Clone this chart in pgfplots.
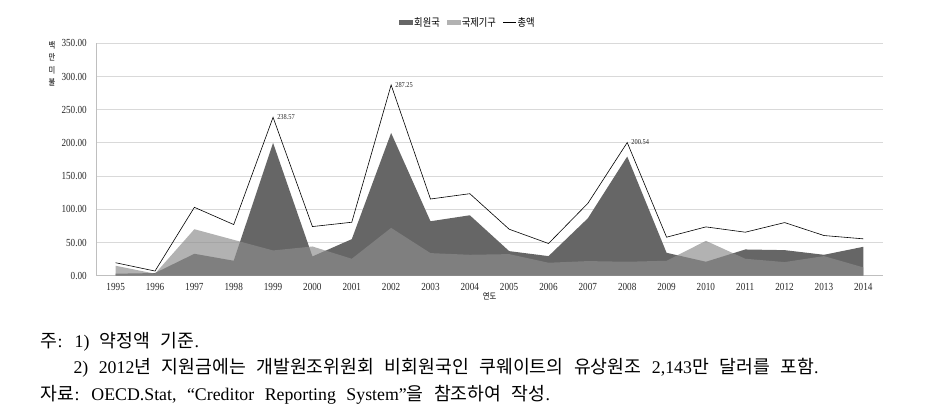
\documentclass[border=0pt]{standalone}
\usepackage{fontspec}
\usepackage{pgfplots}
\pgfplotsset{compat=1.18}
\setmainfont{Liberation Serif}
\newfontfamily\krn[FakeStretch=0.86]{Noto Sans CJK KR}
\newfontfamily\krw{Noto Sans CJK KR}
\newfontfamily\tk[FakeStretch=0.85]{Liberation Serif}
\definecolor{darkA}{HTML}{666666}
\definecolor{lightA}{HTML}{8C8C8C}
\definecolor{gridc}{HTML}{D9D9D9}
\definecolor{axisc}{HTML}{BFBFBF}
\pgfplotsset{
  boxleg/.style={legend image code/.code={\fill[##1] (0bp,-2.5bp) rectangle (14bp,2.5bp);}},
  lineleg/.style={legend image code/.code={\draw[##1] (0bp,0bp) -- (13bp,0bp);}},
}
\newcommand{\K}[1]{{\fontsize{18.3bp}{20bp}\krw #1}}
\newcommand{\NS}{\fontsize{17.8bp}{20bp}\selectfont\spaceskip=10.5bp\relax}

\pgfplotstableread{
year member intl total
1995 3    15   19.5
1996 4    3    7
1997 33   70   103
1998 22.5 54   77
1999 200  38   238.57
2000 29   44   74
2001 55   25.5 80.5
2002 215  72   287.25
2003 82   34   115.5
2004 91   31.5 123.5
2005 37   32.5 70
2006 29.5 19.5 48.5
2007 86.5 22   109
2008 179.5 21  200.54
2009 34.5 22.5 58
2010 21   52.5 73.5
2011 39.5 25.5 65.5
2012 38.5 20.5 80
2013 31.5 29.5 60.5
2014 43.5 12.5 55.5
}\datatable

\begin{document}
\begin{tikzpicture}
\useasboundingbox (0,0) rectangle (928bp,415bp);
\begin{axis}[
  at={(96bp,139.3bp)}, anchor=south west,
  scale only axis, width=787bp, height=232.4bp,
  xmin=1994.5, xmax=2014.5, ymin=0, ymax=350,
  xtick={1995,...,2014}, ytick={0,50,...,350},
  ymajorgrids, grid style={gridc, line width=0.8bp},
  axis lines*=left, axis line style={-, axisc, line width=0.8bp},
  major tick length=0pt,
  /pgf/number format/assume math mode=true,
  tick label style={font=\fontsize{10.8bp}{12bp}\tk, text=black!85},
  xticklabel style={/pgf/number format/1000 sep={}, inner sep=0pt, anchor=north, yshift=-7.5bp},
  yticklabel style={/pgf/number format/.cd, fixed, fixed zerofill, precision=2, /tikz/.cd, inner sep=0pt, anchor=east, xshift=-9bp},
  xlabel={연도}, xlabel style={at={(axis description cs:0.5,0)}, anchor=center, yshift=-21bp, font=\fontsize{8.5bp}{9bp}\krn},
  ylabel={백\\만\\미\\불}, ylabel style={rotate=-90, at={(axis description cs:-0.056,0.912)}, anchor=center, align=center, font=\fontsize{8.5bp}{12.5bp}\krn},
  legend columns=3,
  legend style={at={(axis description cs:0.472,1.089)}, anchor=center, draw=none, fill=none, inner sep=0pt,
    font=\fontsize{10.8bp}{12bp}\krn, nodes={inner sep=1bp},
    /tikz/every even column/.append style={column sep=6bp}},
]
\addplot[fill=darkA, draw=none, boxleg]
  table[x=year, y=member]{\datatable} \closedcycle;
\addlegendentry{회원국}
\addplot[fill=lightA, fill opacity=0.67, draw=none, boxleg]
  table[x=year, y=intl]{\datatable} \closedcycle;
\addlegendentry{국제기구}
\addplot[black, line width=0.6bp, mark=none, lineleg]
  table[x=year, y=total]{\datatable};
\addlegendentry{총액}
\addplot[draw=none, mark=none, forget plot, nodes near coords, point meta=explicit symbolic,
  nodes near coords style={anchor=west, inner sep=0pt, xshift=4bp, font=\fontsize{7.5bp}{8bp}\tk, text=black!85}]
  coordinates {(1999,238.57) [238.57] (2002,287.25) [287.25] (2008,200.54) [200.54]};
\end{axis}
\begin{scope}[every node/.style={anchor=base west, inner sep=0pt}]
\node at (40.7bp,67.5bp) {\NS\K{주}: 1) \K{약정액 기준}.};
\node at (73.3bp,41.7bp) {\NS 2) 2012\K{년 지원금에는 개발원조위원회 비회원국인 쿠웨이트의 유상원조} 2,143\K{만 달러를 포함}.};
\node at (40.7bp,15bp) {\NS\K{자료}: OECD.Stat, “Creditor Reporting System”\K{을 참조하여 작성}.};
\end{scope}
\end{tikzpicture}
\end{document}
